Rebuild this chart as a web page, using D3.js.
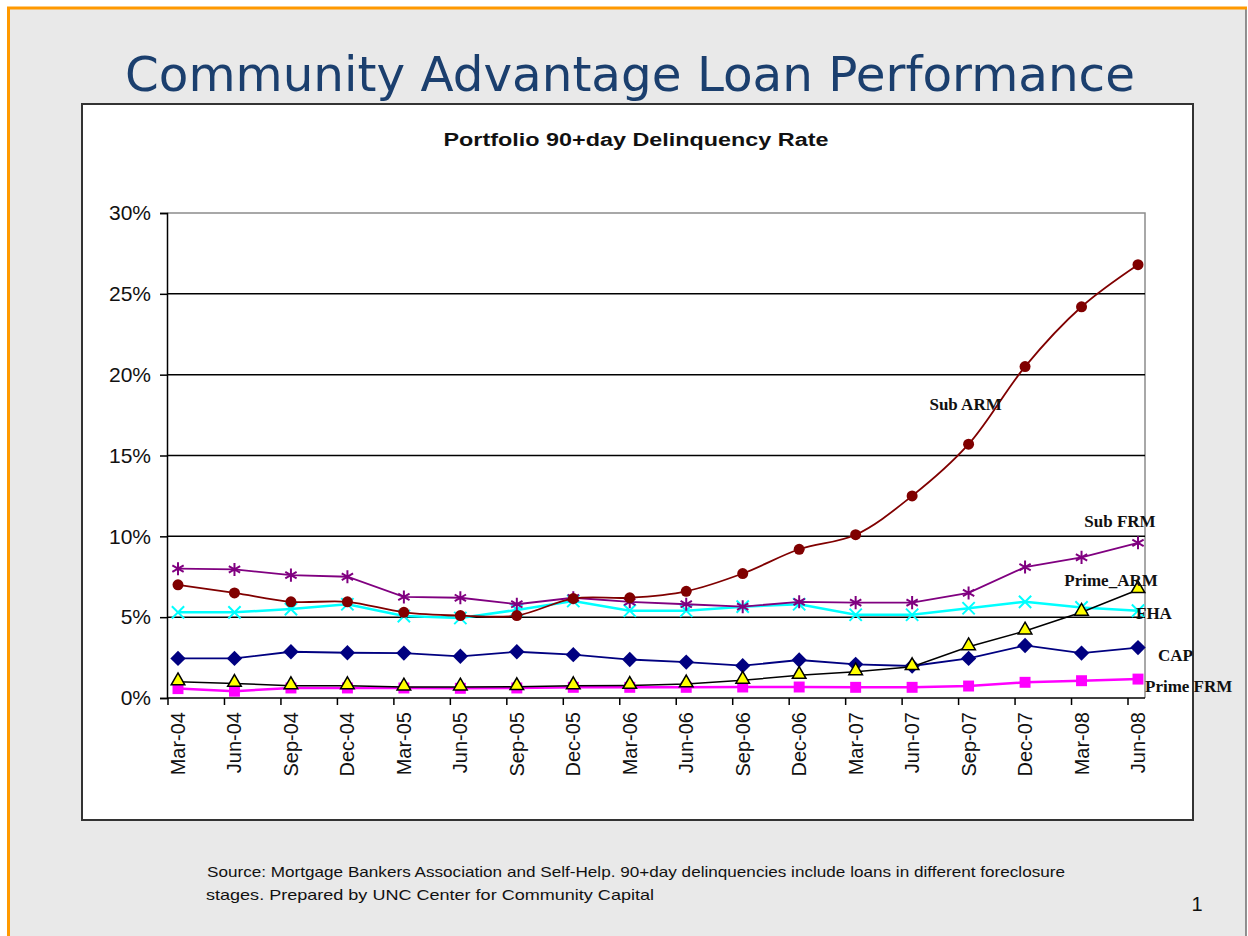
<!DOCTYPE html>
<html>
<head>
<meta charset="utf-8">
<script src="https://cdn.jsdelivr.net/npm/d3@7"></script>
<style>
  html, body { margin: 0; padding: 0; background: #ffffff; }
  svg { display: block; }
</style>
</head>
<body>
<div id="chart"></div>
<script>

// quarters on the x axis
const quarters = ["Mar-04","Jun-04","Sep-04","Dec-04","Mar-05","Jun-05","Sep-05","Dec-05","Mar-06",
    "Jun-06","Sep-06","Dec-06","Mar-07","Jun-07","Sep-07","Dec-07","Mar-08","Jun-08"];

// delinquency rates, percent
const subARM   = [7.0, 6.5, 5.95, 5.95, 5.3, 5.1, 5.1, 6.15, 6.2, 6.6, 7.7, 9.2, 10.1, 12.5, 15.7, 20.5, 24.2, 26.8];
const subFRM   = [8.0, 7.95, 7.6, 7.5, 6.25, 6.2, 5.8, 6.2, 5.95, 5.8, 5.65, 5.95, 5.9, 5.9, 6.5, 8.1, 8.7, 9.6];
const fha      = [5.3, 5.3, 5.5, 5.8, 5.07, 4.95, 5.45, 6.0, 5.4, 5.4, 5.65, 5.8, 5.15, 5.15, 5.55, 5.95, 5.6, 5.4];
const cap      = [2.45, 2.45, 2.86, 2.8, 2.78, 2.58, 2.86, 2.68, 2.38, 2.22, 2.0, 2.35, 2.08, 1.98, 2.45, 3.25, 2.78, 3.12];
const primeARM = [1.0, 0.9, 0.76, 0.76, 0.68, 0.68, 0.7, 0.76, 0.78, 0.87, 1.1, 1.4, 1.62, 1.94, 3.17, 4.14, 5.3, 6.7];
const primeFRM = [0.58, 0.42, 0.62, 0.62, 0.62, 0.6, 0.62, 0.66, 0.66, 0.66, 0.68, 0.68, 0.66, 0.66, 0.74, 0.97, 1.07, 1.17];

const yTicks = [0, 5, 10, 15, 20, 25, 30];

const width = 1248;
const height = 936;

const svg = d3.select("#chart")
    .append("svg")
    .attr("width", width)
    .attr("height", height);

// slide background and borders
svg.append("rect")
    .attr("x", 8).attr("y", 8)
    .attr("width", 1238).attr("height", 940)
    .attr("fill", "#e9e9e9");
svg.append("line")
    .attr("x1", 1246).attr("x2", 1246).attr("y1", 8).attr("y2", 936)
    .attr("stroke", "#6e6e6e").attr("stroke-width", 1.5);
svg.append("line")
    .attr("x1", 7).attr("x2", 1247).attr("y1", 8).attr("y2", 8)
    .attr("stroke", "#ff9900").attr("stroke-width", 3);
svg.append("line")
    .attr("x1", 8.5).attr("x2", 8.5).attr("y1", 7).attr("y2", 936)
    .attr("stroke", "#ff9900").attr("stroke-width", 3);

svg.append("text")
    .attr("x", 125).attr("y", 91)
    .attr("font-family", "DejaVu Sans, Verdana, sans-serif")
    .attr("font-size", 48)
    .attr("fill", "#1b3f6e")
    .attr("textLength", 1010)
    .attr("lengthAdjust", "spacingAndGlyphs")
    .text("Community Advantage Loan Performance");

// chart box
svg.append("rect")
    .attr("x", 82).attr("y", 104)
    .attr("width", 1111).attr("height", 716)
    .attr("fill", "#ffffff")
    .attr("stroke", "#333333").attr("stroke-width", 2);

svg.append("text")
    .attr("x", 636).attr("y", 146)
    .attr("text-anchor", "middle")
    .attr("font-family", "Liberation Sans, Arial, sans-serif")
    .attr("font-weight", "bold")
    .attr("font-size", 18)
    .attr("fill", "#111")
    .attr("textLength", 385)
    .attr("lengthAdjust", "spacingAndGlyphs")
    .text("Portfolio 90+day Delinquency Rate");

const plot = {left: 167, right: 1145, top: 213, bottom: 698};

const xScale = d3.scalePoint()
    .domain(quarters)
    .range([178, 1138]);

const yScale = d3.scaleLinear()
    .domain([0, 30])
    .range([plot.bottom, plot.top]);

// plot frame (top/right grey)
svg.append("path")
    .attr("d", `M${plot.left},${plot.top}H${plot.right}V${plot.bottom}`)
    .attr("fill", "none")
    .attr("stroke", "#8c8c8c").attr("stroke-width", 1.5);

// gridlines
svg.selectAll(".grid")
    .data(yTicks.filter(d => d > 0 && d < 30))
    .enter()
    .append("line")
    .attr("class", "grid")
    .attr("x1", plot.left).attr("x2", plot.right)
    .attr("y1", d => yScale(d)).attr("y2", d => yScale(d))
    .attr("stroke", "#000").attr("stroke-width", 1.5);

// y axis
const yAxis = svg.append("g")
    .attr("transform", `translate(${plot.left},0)`)
    .call(d3.axisLeft(yScale).tickValues(yTicks).tickSize(7).tickPadding(9).tickFormat(d => d + "%"));
yAxis.select(".domain").attr("stroke", "#000").attr("stroke-width", 1.5);
yAxis.selectAll(".tick line").attr("stroke", "#000").attr("stroke-width", 1.5);
yAxis.selectAll("text")
    .attr("font-family", "Liberation Sans, Arial, sans-serif")
    .attr("font-size", 21)
    .attr("fill", "#111");

// x axis
svg.append("line")
    .attr("x1", plot.left).attr("x2", plot.right)
    .attr("y1", plot.bottom).attr("y2", plot.bottom)
    .attr("stroke", "#000").attr("stroke-width", 1.5);
svg.selectAll(".xtick")
    .data(quarters)
    .enter()
    .append("line")
    .attr("class", "xtick")
    .attr("x1", d => xScale(d) - 10).attr("x2", d => xScale(d) - 10)
    .attr("y1", plot.bottom).attr("y2", plot.bottom + 7)
    .attr("stroke", "#000").attr("stroke-width", 1.5);
svg.selectAll(".xlabel")
    .data(quarters)
    .enter()
    .append("text")
    .attr("class", "xlabel")
    .attr("transform", d => `translate(${xScale(d)},${plot.bottom + 14}) rotate(-90)`)
    .attr("dy", "0.35em")
    .attr("text-anchor", "end")
    .attr("font-family", "Liberation Sans, Arial, sans-serif")
    .attr("font-size", 20)
    .attr("fill", "#111")
    .text(d => d);

// series
const series = [
    {name: "Prime FRM", values: primeFRM, color: "#ff00ff", marker: "square", width: 2.5},
    {name: "CAP", values: cap, color: "#000080", marker: "diamond", width: 1.8},
    {name: "FHA", values: fha, color: "#00ffff", marker: "x", width: 2.5},
    {name: "Sub FRM", values: subFRM, color: "#800080", marker: "star", width: 1.8},
    {name: "Sub ARM", values: subARM, color: "#800000", marker: "circle", width: 1.8},
    {name: "Prime ARM", values: primeARM, color: "#000000", marker: "triangle", width: 1.5}
];

const line = d3.line()
    .x((d, i) => xScale(quarters[i]))
    .y(d => yScale(d));

const symbols = {
    square: d3.symbol(d3.symbolSquare, 120),
    diamond: d3.symbol(d3.symbolDiamond2, 150),
    circle: d3.symbol(d3.symbolCircle, 95),
    triangle: d3.symbol(d3.symbolTriangle, 80),
    x: d3.symbol(d3.symbolX, 100),
    star: d3.symbol(d3.symbolAsterisk, 120)
};

series.forEach(function(s) {
    const g = svg.append("g");
    g.append("path")
        .datum(s.values)
        .attr("fill", "none")
        .attr("stroke", s.color)
        .attr("stroke-width", s.width)
        .attr("d", s.name === "Sub ARM" ? line.curve(d3.curveCatmullRom)(s.values) : line.curve(d3.curveLinear)(s.values));

    const pts = g.selectAll("path.mark")
        .data(s.values)
        .enter()
        .append("path")
        .attr("class", "mark")
        .attr("transform", (d, i) => `translate(${xScale(quarters[i])},${yScale(d)})`)
        .attr("d", symbols[s.marker]);

    if (s.marker === "triangle") {
        pts.attr("fill", "#ffff00").attr("stroke", "#000").attr("stroke-width", 1.5)
            .attr("transform", (d, i) => `translate(${xScale(quarters[i])},${yScale(d) - 1})`);
    } else if (s.marker === "x" || s.marker === "star") {
        pts.attr("fill", "none").attr("stroke", s.color).attr("stroke-width", 2);
    } else {
        pts.attr("fill", s.color);
    }
});

// series labels
svg.append("clipPath").attr("id", "boxclip")
    .append("rect").attr("x", 82).attr("y", 104).attr("width", 1111).attr("height", 716);

const labelFont = "Liberation Serif, Times New Roman, serif";
const labels = svg.append("g")
    .attr("font-family", labelFont)
    .attr("font-weight", "bold")
    .attr("font-size", 17)
    .attr("fill", "#111");

labels.append("text")
    .attr("x", xScale("Sep-07") - 3).attr("y", yScale(17.8))
    .attr("text-anchor", "middle")
    .text("Sub ARM");
labels.append("text")
    .attr("x", xScale("Jun-08") - 18).attr("y", yScale(10.6))
    .attr("text-anchor", "middle")
    .text("Sub FRM");
labels.append("text")
    .attr("x", xScale("Jun-08") - 27).attr("y", yScale(6.9))
    .attr("text-anchor", "middle")
    .text("Prime_ARM");
labels.append("text")
    .attr("x", xScale("Jun-08") - 2).attr("y", yScale(4.9))
    .text("FHA");
labels.append("text")
    .attr("x", xScale("Jun-08") + 20).attr("y", yScale(2.3))
    .attr("clip-path", "url(#boxclip)")
    .text("CAP");
labels.append("text")
    .attr("x", xScale("Jun-08") + 7).attr("y", yScale(0.4))
    .text("Prime FRM");

// footnote
const foot = svg.append("g")
    .attr("font-family", "Liberation Sans, Arial, sans-serif")
    .attr("font-size", 15)
    .attr("fill", "#111");
foot.append("text")
    .attr("x", 207).attr("y", 877)
    .attr("textLength", 858)
    .attr("lengthAdjust", "spacingAndGlyphs")
    .text("Source: Mortgage Bankers Association and Self-Help. 90+day delinquencies include loans in different foreclosure");
foot.append("text")
    .attr("x", 206).attr("y", 900)
    .attr("textLength", 448)
    .attr("lengthAdjust", "spacingAndGlyphs")
    .text("stages. Prepared by UNC Center for Community Capital");
foot.append("text")
    .attr("x", 1197).attr("y", 911)
    .attr("font-size", 20)
    .attr("text-anchor", "middle")
    .text("1");

</script>
</body>
</html>
